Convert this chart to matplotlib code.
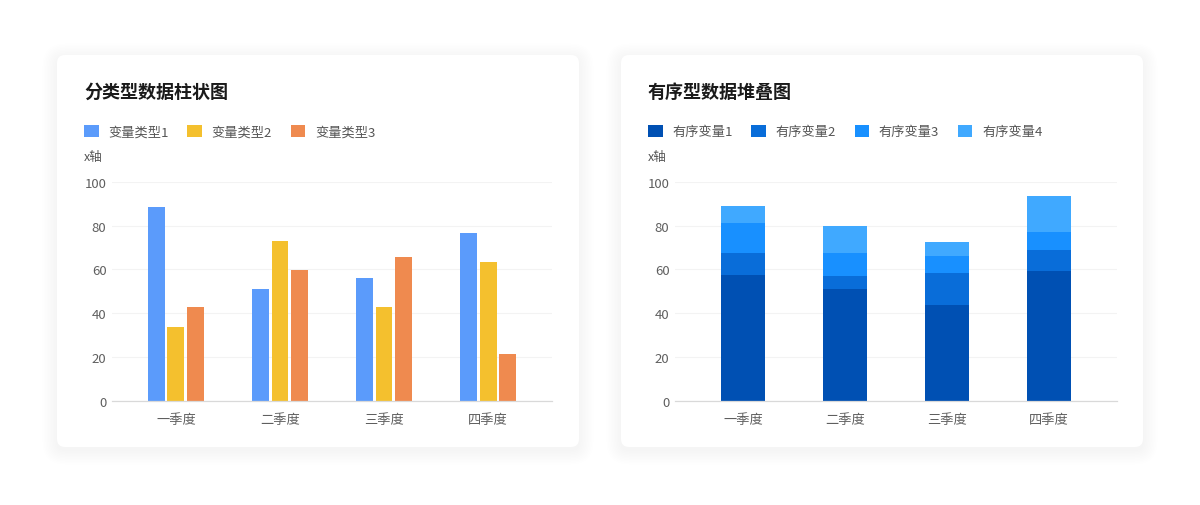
import matplotlib
matplotlib.use("Agg")
import matplotlib.pyplot as plt
from matplotlib.patches import FancyBboxPatch
import numpy as np

plt.rcParams['font.family'] = ['Noto Sans CJK SC', 'DejaVu Sans']

# data
quarters = ["一季度", "二季度", "三季度", "四季度"]

cat_names = ["变量类型1", "变量类型2", "变量类型3"]
cat_values = [
    [88.6, 51, 56, 76.7],
    [33.5, 73, 43, 63.3],
    [42.6, 59.7, 65.8, 21.5],
]
cat_colors = ["#5B9BFB", "#F4C02E", "#EF8A4F"]

ord_names = ["有序变量1", "有序变量2", "有序变量3", "有序变量4"]
ord_values = [
    [57.4, 51, 43.7, 59.1],
    [10.2, 5.8, 14.4, 9.9],
    [13.4, 10.6, 7.8, 8.2],
    [8, 12.5, 6.7, 16.1],
]
ord_colors = ["#0050B3", "#096DD9", "#1890FF", "#40A9FF"]

W, H = 1200, 506
fig = plt.figure(figsize=(W / 100, H / 100), dpi=100)
fig.patch.set_facecolor("white")

# background layer in pixel units for the cards
bg = fig.add_axes([0, 0, 1, 1], zorder=0)
bg.set_xlim(0, W)
bg.set_ylim(H, 0)
bg.axis("off")

for x0 in (57, 621):
    # soft shadow
    for i in range(10):
        grow = 1 + i * 1.5
        bg.add_patch(FancyBboxPatch((x0 - grow, 56 - grow + 3), 522 + 2 * grow, 392 + 2 * grow,
                                    boxstyle="round,pad=0,rounding_size=%g" % (8 + grow),
                                    facecolor="#000000", edgecolor="none", alpha=0.005))
    bg.add_patch(FancyBboxPatch((x0, 56), 522, 392, boxstyle="round,pad=0,rounding_size=8",
                                facecolor="white", edgecolor="none"))


def style_axes(ax):
    ax.set_ylim(0, 100)
    ax.set_yticks(range(0, 101, 20))
    ax.set_xticks(range(len(quarters)))
    ax.set_xticklabels(quarters)
    ax.tick_params(length=0, labelsize=9.5, colors="#5f5f5f")
    ax.tick_params(axis="x", pad=9)
    ax.tick_params(axis="y", pad=4)
    ax.grid(axis="y", color="#f3f3f3", linewidth=0.8)
    ax.set_axisbelow(True)
    for s in ("top", "right", "left"):
        ax.spines[s].set_visible(False)
    ax.spines["bottom"].set_color("#d9d9d9")
    ax.spines["bottom"].set_linewidth(0.9)
    ax.set_facecolor("none")


# left chart: grouped bars
ax1 = fig.add_axes([112 / W, (H - 401.7) / H, 440 / W, 219 / H], zorder=2)
x = np.arange(len(quarters))
bars1 = []
for i, (name, vals, col) in enumerate(zip(cat_names, cat_values, cat_colors)):
    b = ax1.bar(x + (i - 1) * 0.1875, vals, width=0.163, color=col, label=name)
    bars1.append(b)
ax1.set_xlim(-0.615, 3.615)
style_axes(ax1)

# right chart: stacked bars
ax2 = fig.add_axes([675 / W, (H - 401.7) / H, 442 / W, 219 / H], zorder=2)
bottom = np.zeros(len(quarters))
bars2 = []
for name, vals, col in zip(ord_names, ord_values, ord_colors):
    b = ax2.bar(x, vals, width=0.43, bottom=bottom, color=col, label=name)
    bottom += np.array(vals)
    bars2.append(b)
ax2.set_xlim(-0.667, 3.667)
style_axes(ax2)

# titles, legends, axis captions
for x0, title, handles, names in ((84, "分类型数据柱状图", bars1, cat_names),
                                  (648, "有序型数据堆叠图", bars2, ord_names)):
    fig.text(x0 / W, 1 - 92.5 / H, title, fontsize=13, fontweight="bold",
             color="#1a1a1a", va="center", ha="left")
    fig.text(x0 / W, 1 - 157.5 / H, "x轴", fontsize=9, color="#555555",
             va="center", ha="left")
    fig.legend(handles, names, loc="center left",
               bbox_to_anchor=(x0 / W, 1 - 132.5 / H), bbox_transform=fig.transFigure,
               ncol=len(names), frameon=False, fontsize=9.5, labelcolor="#555555",
               handlelength=1.1, handleheight=1.1, handletextpad=0.75,
               columnspacing=1.4, borderpad=0, borderaxespad=0)

fig.savefig("out.png", dpi=100, facecolor="white")
